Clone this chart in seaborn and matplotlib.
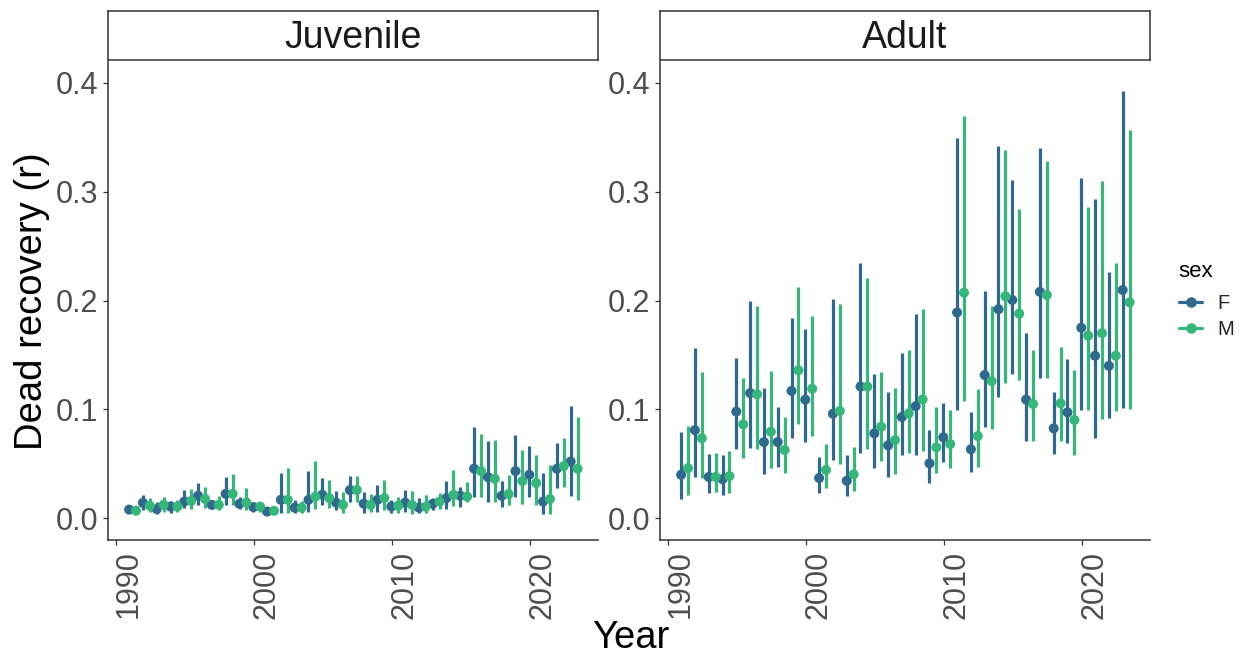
import numpy as np
import pandas as pd
import matplotlib
matplotlib.use("Agg")
import matplotlib.pyplot as plt
import matplotlib.transforms as mtransforms
from matplotlib.lines import Line2D
import seaborn as sns

# ---------------- data ----------------
years = list(range(1991, 2024))
stages = ["Juvenile", "Adult"]
sexes = ["F", "M"]
x_ticks = [1990, 2000, 2010, 2020]
y_ticks = [0.0, 0.1, 0.2, 0.3, 0.4]
y_tick_labels = ["0.0", "0.1", "0.2", "0.3", "0.4"]

juv_f_est = [0.008, 0.0143, 0.0085, 0.0108, 0.0154, 0.0207, 0.0124, 0.0225, 0.0133, 0.0103, 0.0062,
             0.017, 0.0098, 0.017, 0.0216, 0.0144, 0.026, 0.0135, 0.017, 0.0108, 0.0144, 0.0098,
             0.0133, 0.0186, 0.0207, 0.0456, 0.0379, 0.0207, 0.0434, 0.040, 0.0154, 0.0455, 0.0521]
juv_f_lo = [0.005, 0.0078, 0.0041, 0.0053, 0.0098, 0.0124, 0.0089, 0.0124, 0.0089, 0.0062, 0.0035,
            0.0053, 0.0053, 0.0062, 0.0124, 0.0078, 0.0154, 0.0053, 0.0062, 0.0053, 0.0062, 0.0048,
            0.0078, 0.0089, 0.0108, 0.020, 0.0154, 0.0103, 0.020, 0.0199, 0.0041, 0.0277, 0.0207]
juv_f_hi = [0.012, 0.0216, 0.0154, 0.016, 0.026, 0.0323, 0.016, 0.0384, 0.020, 0.0154, 0.0095,
            0.0415, 0.017, 0.043, 0.037, 0.0251, 0.039, 0.0241, 0.0308, 0.017, 0.026, 0.0186,
            0.0186, 0.0343, 0.0291, 0.0842, 0.0712, 0.0343, 0.0767, 0.0666, 0.042, 0.069, 0.1033]

juv_m_est = [0.007, 0.0115, 0.0124, 0.0108, 0.016, 0.0179, 0.0124, 0.0225, 0.0145, 0.0108, 0.0069,
             0.017, 0.0098, 0.0199, 0.0186, 0.0124, 0.026, 0.0124, 0.0186, 0.0115, 0.0124, 0.0108,
             0.0154, 0.0216, 0.020, 0.0434, 0.0363, 0.0223, 0.0343, 0.0324, 0.0177, 0.048, 0.0455]
juv_m_lo = [0.004, 0.0062, 0.0062, 0.0062, 0.0089, 0.0098, 0.0078, 0.0124, 0.0078, 0.0062, 0.004,
            0.0048, 0.0048, 0.0089, 0.0098, 0.0053, 0.0154, 0.0062, 0.0078, 0.0053, 0.0041, 0.0053,
            0.0089, 0.0115, 0.0154, 0.020, 0.0154, 0.0124, 0.0133, 0.0124, 0.0041, 0.0291, 0.017]
juv_m_hi = [0.011, 0.019, 0.0194, 0.017, 0.0266, 0.0291, 0.0207, 0.0409, 0.0277, 0.0154, 0.010,
            0.046, 0.0163, 0.053, 0.0354, 0.0241, 0.039, 0.0225, 0.0354, 0.020, 0.0251, 0.0216,
            0.0232, 0.0445, 0.0329, 0.0778, 0.0721, 0.040, 0.063, 0.0583, 0.049, 0.0735, 0.0926]

adu_f_est = [0.040, 0.081, 0.038, 0.036, 0.098, 0.115, 0.070, 0.070, 0.117, 0.109, 0.037,
             0.096, 0.0345, 0.121, 0.078, 0.067, 0.093, 0.103, 0.0505, 0.0744, 0.189, 0.0634,
             0.1316, 0.192, 0.2005, 0.109, 0.208, 0.0826, 0.0973, 0.175, 0.1493, 0.140, 0.2096]
adu_f_lo = [0.0177, 0.038, 0.023, 0.0214, 0.064, 0.065, 0.041, 0.0468, 0.074, 0.0703, 0.023,
            0.0535, 0.0208, 0.0603, 0.046, 0.0382, 0.058, 0.058, 0.032, 0.052, 0.0995, 0.0428,
            0.0836, 0.111, 0.1325, 0.071, 0.1286, 0.0588, 0.0689, 0.0995, 0.0735, 0.0918, 0.101]
adu_f_hi = [0.079, 0.156, 0.059, 0.058, 0.147, 0.1995, 0.120, 0.1025, 0.1836, 0.1735, 0.0566,
            0.201, 0.058, 0.2347, 0.1325, 0.1157, 0.1515, 0.188, 0.081, 0.1056, 0.349, 0.098,
            0.209, 0.342, 0.311, 0.170, 0.340, 0.1157, 0.1463, 0.3128, 0.2932, 0.2265, 0.3924]

adu_m_est = [0.046, 0.0735, 0.038, 0.0388, 0.0863, 0.1139, 0.0795, 0.0627, 0.136, 0.119, 0.0444,
             0.0985, 0.0404, 0.1209, 0.0841, 0.0719, 0.0964, 0.1092, 0.0652, 0.0682, 0.2072, 0.0756,
             0.126, 0.204, 0.188, 0.105, 0.205, 0.1056, 0.0903, 0.1677, 0.170, 0.1493, 0.1983]
adu_m_lo = [0.0214, 0.0367, 0.0245, 0.023, 0.0557, 0.0636, 0.046, 0.0419, 0.0863, 0.0756, 0.028,
            0.0496, 0.0254, 0.0634, 0.0526, 0.041, 0.0603, 0.0618, 0.0419, 0.0465, 0.108, 0.0474,
            0.0817, 0.1245, 0.127, 0.071, 0.129, 0.071, 0.058, 0.0995, 0.0912, 0.0985, 0.1004]
adu_m_hi = [0.0848, 0.1346, 0.060, 0.0618, 0.1286, 0.195, 0.135, 0.0933, 0.2127, 0.186, 0.068,
            0.1968, 0.0658, 0.2204, 0.134, 0.1194, 0.1545, 0.192, 0.102, 0.0995, 0.3697, 0.119,
            0.195, 0.338, 0.2837, 0.1545, 0.3284, 0.157, 0.136, 0.2856, 0.3097, 0.234, 0.357]

# ---------------- table ----------------
series = {
    ("Juvenile", "F"): (juv_f_est, juv_f_lo, juv_f_hi),
    ("Juvenile", "M"): (juv_m_est, juv_m_lo, juv_m_hi),
    ("Adult", "F"): (adu_f_est, adu_f_lo, adu_f_hi),
    ("Adult", "M"): (adu_m_est, adu_m_lo, adu_m_hi),
}
frames = []
for (stage, sex), (est, lo, hi) in series.items():
    frames.append(pd.DataFrame({"year": years, "stage": stage, "sex": sex,
                                "est": est, "lo": lo, "hi": hi}))
df = pd.concat(frames, ignore_index=True)

dodge = {"F": -0.05, "M": 0.45}
df["xpos"] = df["year"] + df["sex"].map(dodge)

colors = {"F": "#31688E", "M": "#35B779"}

# ---------------- style ----------------
sns.set_theme(style="white")
plt.rcParams["font.family"] = ["Liberation Sans", "DejaVu Sans"]

W, H = 1246, 656
fig = plt.figure(figsize=(W / 100, H / 100), dpi=100)


def fx(px):
    return px / W


def fy(py):
    return 1 - py / H


ax_top, ax_bot = 62, 540
strip_top, strip_bot = 11, 60
panel_w = 490
lefts = {"Juvenile": 108, "Adult": 660}
axis_col = "#333333"

for stage in stages:
    left = lefts[stage]
    ax = fig.add_axes([fx(left), fy(ax_bot), fx(panel_w), (ax_bot - ax_top) / H])
    sub = df[df["stage"] == stage]
    for sex in sexes:
        s = sub[sub["sex"] == sex]
        ax.vlines(s["xpos"], s["lo"], s["hi"], color=colors[sex], lw=2.3, zorder=2)
    for sex in sexes:
        s = sub[sub["sex"] == sex]
        sns.scatterplot(data=s, x="xpos", y="est", color=colors[sex], s=52,
                        edgecolor="none", linewidth=0, ax=ax, legend=False, zorder=3)
    ax.set_xlim(1989.42, 2024.93)
    ax.set_ylim(-0.0199, 0.419)
    ax.set_xticks(x_ticks)
    ax.set_xticklabels([str(t) for t in x_ticks])
    ax.set_yticks(y_ticks)
    ax.set_yticklabels(y_tick_labels)
    ax.set_xlabel("")
    ax.set_ylabel("")
    ax.grid(False)
    for side in ["top", "right"]:
        ax.spines[side].set_visible(False)
    for side in ["left", "bottom"]:
        ax.spines[side].set_color(axis_col)
        ax.spines[side].set_linewidth(1.1)
    ax.tick_params(axis="both", which="major", length=3.6, width=0.9, color=axis_col,
                   labelsize=22, labelcolor="#4D4D4D", left=True, bottom=True)
    ax.tick_params(axis="y", pad=3.2)
    ax.tick_params(axis="x", pad=4.0)
    off = mtransforms.ScaledTranslation(12.5 / 100, 0, fig.dpi_scale_trans)
    for lab in ax.get_xticklabels():
        lab.set_rotation(90)
        lab.set_rotation_mode("anchor")
        lab.set_ha("right")
        lab.set_va("center")
        lab.set_transform(lab.get_transform() + off)

    # facet strip
    sax = fig.add_axes([fx(left), fy(strip_bot), fx(panel_w), (strip_bot - strip_top) / H])
    sax.set_xticks([])
    sax.set_yticks([])
    sax.set_facecolor("white")
    for sp in sax.spines.values():
        sp.set_visible(True)
        sp.set_color(axis_col)
        sp.set_linewidth(1.1)
    sax.text(0.5, (strip_bot - 48.3) / (strip_bot - strip_top), stage, ha="center",
             va="baseline", fontsize=27, color="#1A1A1A", transform=sax.transAxes)

# axis titles
fig.text(fx(631), fy(648), "Year", ha="center", va="baseline", fontsize=27.5, color="black")
fig.text(fx(42.4), fy((ax_top + ax_bot) / 2), "Dead recovery (r)", rotation=90,
         rotation_mode="anchor", ha="center", va="baseline", fontsize=27.5, color="black")

# legend
fig.text(fx(1178), fy(277), "sex", ha="left", va="baseline", fontsize=16, color="black")
handles = [Line2D([0], [0], color=colors[s], lw=2.3, marker="o", markersize=7.6,
                  markeredgewidth=0) for s in sexes]
fig.legend(handles, sexes, loc="upper left",
           bbox_to_anchor=(fx(1179), fy(294)), frameon=False, fontsize=14.5,
           handlelength=1.15, handletextpad=0.75, labelspacing=0.36,
           borderpad=0, borderaxespad=0)

fig.savefig("out.png", dpi=100, facecolor="white")
